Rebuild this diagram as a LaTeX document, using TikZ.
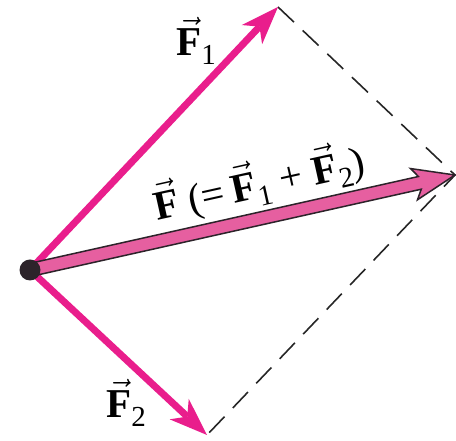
\RequirePackage{fix-cm}
\documentclass[tikz,border=0pt]{standalone}
\usepackage{fontspec}
\setmainfont{Liberation Serif}
\usetikzlibrary{arrows.meta}
\definecolor{mag}{RGB}{233,30,140}
\definecolor{magl}{RGB}{230,95,160}
\definecolor{dk}{RGB}{45,35,42}
\newcommand\vF{\ensuremath{\vec{\textbf{F}}}}
\newcommand\sbx[1]{\raisebox{-0.22em}{\fontsize{29}{30}\selectfont #1}}
\begin{document}
\begin{tikzpicture}[x=1pt,y=1pt,
  force/.style={line width=7pt, mag, -{Stealth[length=38pt,width=28pt,inset=11pt,line width=0pt]}},
  paral/.style={line width=1.6pt, black!85, dash pattern=on 22pt off 12pt},
  lbl/.style={font=\fontsize{41}{43}\selectfont, inner sep=0pt}]
\useasboundingbox (0,0) rectangle (456,441);
\coordinate (O) at (30,171);
\coordinate (A) at (278,434);
\coordinate (B) at (207,6);
\coordinate (R) at (455,266);
\draw[paral] (A) -- (R) -- (B);
\draw[force] (O) -- (A);
\draw[force] (O) -- (B);
\begin{scope}[shift={(O)}, rotate=12.6]
  \filldraw[fill=magl, draw=dk, line width=1.5pt, line join=miter]
    (0,-6.5) -- (399.5,-6.5) -- (393.5,-16) -- (435.5,0) -- (393.5,16) -- (399.5,6.5) -- (0,6.5) -- cycle;
\end{scope}
\fill[dk] (O) circle (10.5pt);
\node[lbl] (l1) at (196,400) {\vF\sbx{1}};
\node[lbl] (l2) at (126,38) {\vF\sbx{2}};
\node[lbl, rotate=12.6] (lR) at (259,258) {\vF\ (=\,\vF\sbx{1} + \vF\sbx{2})};
\end{tikzpicture}
\end{document}
